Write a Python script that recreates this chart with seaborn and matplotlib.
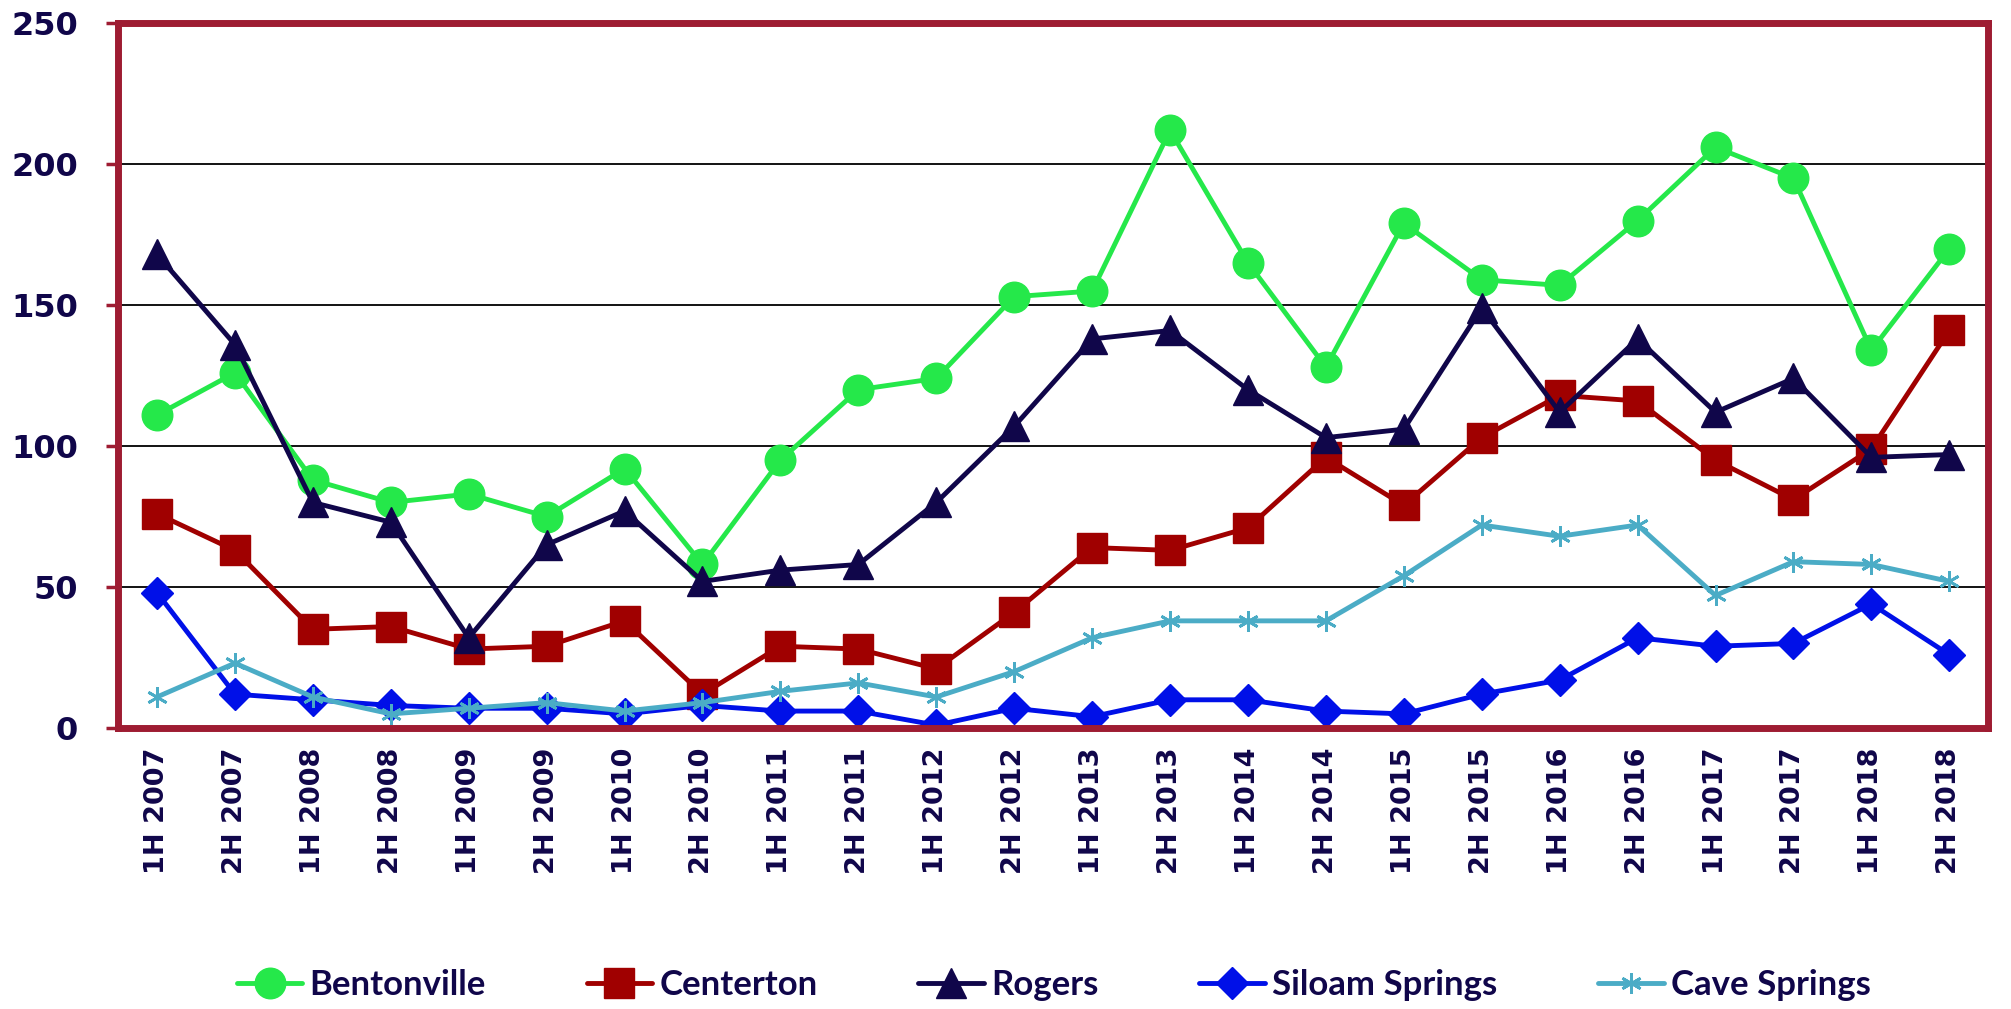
import matplotlib
matplotlib.use("Agg")
import matplotlib.pyplot as plt
import pandas as pd
import seaborn as sns

periodos = ["1H 2007", "2H 2007", "1H 2008", "2H 2008", "1H 2009", "2H 2009",
            "1H 2010", "2H 2010", "1H 2011", "2H 2011", "1H 2012", "2H 2012",
            "1H 2013", "2H 2013", "1H 2014", "2H 2014", "1H 2015", "2H 2015",
            "1H 2016", "2H 2016", "1H 2017", "2H 2017", "1H 2018", "2H 2018"]

bentonville = [111, 126, 88, 80, 83, 75, 92, 58, 95, 120, 124, 153,
               155, 212, 165, 128, 179, 159, 157, 180, 206, 195, 134, 170]
centerton = [76, 63, 35, 36, 28, 29, 38, 12, 29, 28, 21, 41,
             64, 63, 71, 96, 79, 103, 118, 116, 95, 81, 99, 141]
rogers = [168, 136, 80, 73, 32, 65, 77, 52, 56, 58, 80, 107,
          138, 141, 120, 103, 106, 149, 112, 138, 112, 124, 96, 97]
siloam_springs = [48, 12, 10, 8, 7, 7, 5, 8, 6, 6, 1, 7,
                  4, 10, 10, 6, 5, 12, 17, 32, 29, 30, 44, 26]
cave_springs = [11, 23, 11, 5, 7, 9, 6, 9, 13, 16, 11, 20,
                32, 38, 38, 38, 54, 72, 68, 72, 47, 59, 58, 52]

series = {
    "Bentonville": bentonville,
    "Centerton": centerton,
    "Rogers": rogers,
    "Siloam Springs": siloam_springs,
    "Cave Springs": cave_springs,
}

# estilo de cada serie: cor, marcador, tamanho do marcador
estilos = {
    "Bentonville": ("#25E84A", "o", 22),
    "Centerton": ("#A00000", "s", 21),
    "Rogers": ("#10064A", "^", 22),
    "Siloam Springs": ("#0010E8", "D", 16),
    "Cave Springs": ("#4BACC6", (6, 2, 0), 15),
}

texto_cor = "#10064A"
borda_cor = "#9E1C32"

sns.set_style("white")

fig = plt.figure(figsize=(20.11, 10.09), dpi=100)
ax = fig.add_axes([0.0587, 0.2785, 0.93, 0.6985])

for nome, valores in series.items():
    cor, marcador, tam = estilos[nome]
    df = pd.DataFrame({"periodo": periodos, "valor": valores})
    sns.lineplot(
        data=df, x="periodo", y="valor", ax=ax,
        color=cor, marker=marcador, markersize=tam, linewidth=3.5,
        markeredgecolor=cor, markeredgewidth=2 if nome == "Cave Springs" else 1,
        label=nome, legend=False,
    )

ax.set_xlim(-0.5, len(periodos) - 0.5)
ax.set_ylim(0, 250)
ax.set_yticks([0, 50, 100, 150, 200, 250])
ax.set_xlabel("")
ax.set_ylabel("")

# grade horizontal preta
for y in [50, 100, 150, 200]:
    ax.axhline(y, color="black", linewidth=1.3, zorder=0)

for lado in ax.spines.values():
    lado.set_color(borda_cor)
    lado.set_linewidth(5)

ax.tick_params(axis="y", length=9, width=2.5, color=borda_cor, pad=20,
               left=True, labelsize=23, labelcolor=texto_cor)
ax.tick_params(axis="x", length=0, pad=14, labelsize=19.5, labelcolor=texto_cor,
               labelrotation=90)
for rotulo in ax.get_xticklabels() + ax.get_yticklabels():
    rotulo.set_fontweight("heavy")

handles, labels = ax.get_legend_handles_labels()
fig.legend(handles, labels, loc="center", bbox_to_anchor=(0.524, 0.024),
           ncol=5, frameon=False, handlelength=1.9, handletextpad=0.2,
           columnspacing=2.9, prop={"family": "Lato", "weight": "bold", "size": 25},
           labelcolor=texto_cor)

fig.savefig("out.png", dpi=100)
